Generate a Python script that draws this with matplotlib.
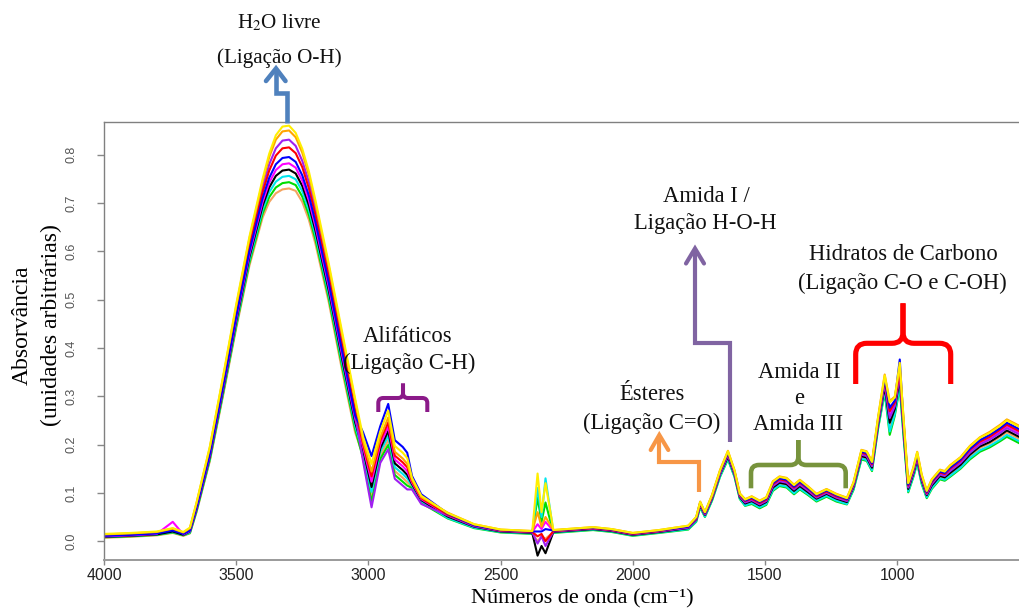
import matplotlib
matplotlib.use('Agg')
import matplotlib.pyplot as plt
from matplotlib.path import Path
from matplotlib.patches import PathPatch
from matplotlib.lines import Line2D

plt.rcParams['font.family'] = 'Liberation Sans'
plt.rcParams['mathtext.fontset'] = 'stix'

W, H = 1019, 609
SERIF = 'Liberation Serif'

# wavenumbers (cm-1), shared by all spectra
wavenumber = [4000, 3900, 3800, 3740, 3700, 3675, 3650, 3600, 3550, 3500, 3450, 3400, 3375, 3350, 3325, 3300,
              3275, 3250, 3225, 3200, 3150, 3100, 3050, 3020, 2988, 2955, 2925, 2900, 2870, 2853, 2835, 2800,
              2700, 2600, 2500, 2380, 2360, 2345, 2330, 2300, 2200, 2150, 2080, 2000, 1900, 1790, 1760, 1745,
              1727, 1700, 1670, 1640, 1615, 1595, 1575, 1550, 1520, 1495, 1470, 1445, 1418, 1390, 1368, 1336,
              1305, 1267, 1230, 1190, 1165, 1135, 1115, 1095, 1072, 1047, 1028, 1009, 990, 977, 958, 939,
              924, 907, 888, 869, 838, 820, 800, 760, 725, 687, 650, 610, 585, 560, 539]

spec_yellow = [0.015, 0.017, 0.020, 0.027, 0.019, 0.028, 0.080, 0.195, 0.340, 0.490, 0.630, 0.750, 0.802, 0.840, 0.858, 0.860,
               0.845, 0.812, 0.765, 0.705, 0.575, 0.435, 0.295, 0.216, 0.160, 0.227, 0.270, 0.197, 0.183, 0.172, 0.131, 0.094,
               0.058, 0.035, 0.024, 0.021, 0.140, 0.060, 0.120, 0.023, 0.027, 0.029, 0.025, 0.017, 0.023, 0.032, 0.050, 0.081,
               0.060, 0.095, 0.146, 0.186, 0.146, 0.098, 0.086, 0.092, 0.083, 0.090, 0.123, 0.133, 0.130, 0.116, 0.126, 0.112,
               0.097, 0.107, 0.097, 0.089, 0.121, 0.188, 0.185, 0.164, 0.256, 0.343, 0.287, 0.297, 0.369, 0.263, 0.120, 0.151,
               0.184, 0.137, 0.104, 0.127, 0.147, 0.144, 0.156, 0.173, 0.196, 0.214, 0.224, 0.239, 0.250, 0.243, 0.237]
spec_orange = [0.014, 0.016, 0.019, 0.026, 0.018, 0.027, 0.079, 0.193, 0.337, 0.486, 0.626, 0.744, 0.795, 0.831, 0.848, 0.850,
               0.836, 0.804, 0.758, 0.698, 0.569, 0.429, 0.290, 0.207, 0.144, 0.215, 0.256, 0.185, 0.171, 0.160, 0.127, 0.091,
               0.059, 0.035, 0.024, 0.021, 0.060, 0.030, 0.050, 0.023, 0.027, 0.029, 0.025, 0.017, 0.023, 0.032, 0.050, 0.082,
               0.060, 0.096, 0.147, 0.187, 0.147, 0.099, 0.087, 0.093, 0.084, 0.091, 0.124, 0.134, 0.131, 0.117, 0.127, 0.113,
               0.098, 0.108, 0.098, 0.090, 0.122, 0.189, 0.186, 0.165, 0.257, 0.345, 0.290, 0.299, 0.360, 0.265, 0.121, 0.152,
               0.185, 0.138, 0.105, 0.128, 0.148, 0.145, 0.157, 0.174, 0.197, 0.215, 0.226, 0.241, 0.252, 0.245, 0.239]
spec_red = [0.012, 0.014, 0.017, 0.024, 0.016, 0.024, 0.073, 0.185, 0.326, 0.473, 0.609, 0.722, 0.767, 0.798, 0.813, 0.815,
            0.803, 0.774, 0.730, 0.674, 0.547, 0.407, 0.271, 0.201, 0.134, 0.208, 0.246, 0.177, 0.163, 0.153, 0.124, 0.089,
            0.055, 0.033, 0.022, 0.019, 0.010, 0.015, 0.000, 0.021, 0.025, 0.027, 0.023, 0.015, 0.021, 0.030, 0.047, 0.078,
            0.057, 0.092, 0.143, 0.182, 0.143, 0.095, 0.083, 0.088, 0.079, 0.086, 0.118, 0.128, 0.125, 0.111, 0.121, 0.108,
            0.093, 0.103, 0.093, 0.086, 0.117, 0.183, 0.180, 0.159, 0.250, 0.334, 0.269, 0.287, 0.356, 0.253, 0.115, 0.146,
            0.178, 0.132, 0.100, 0.122, 0.142, 0.139, 0.150, 0.167, 0.189, 0.206, 0.216, 0.231, 0.241, 0.234, 0.228]
spec_purple = [0.013, 0.015, 0.018, 0.025, 0.017, 0.025, 0.076, 0.188, 0.331, 0.479, 0.617, 0.732, 0.780, 0.813, 0.829, 0.831,
               0.818, 0.787, 0.743, 0.685, 0.557, 0.417, 0.262, 0.165, 0.070, 0.162, 0.190, 0.129, 0.115, 0.107, 0.107, 0.077,
               0.053, 0.031, 0.021, 0.018, -0.005, 0.010, -0.010, 0.020, 0.024, 0.026, 0.022, 0.014, 0.020, 0.028, 0.045, 0.076,
               0.055, 0.090, 0.140, 0.178, 0.140, 0.093, 0.080, 0.085, 0.076, 0.083, 0.114, 0.124, 0.121, 0.107, 0.117, 0.104,
               0.090, 0.100, 0.090, 0.083, 0.114, 0.179, 0.176, 0.155, 0.245, 0.326, 0.255, 0.279, 0.345, 0.245, 0.111, 0.142,
               0.173, 0.128, 0.097, 0.118, 0.138, 0.135, 0.145, 0.162, 0.183, 0.200, 0.210, 0.224, 0.234, 0.227, 0.221]
spec_blue = [0.011, 0.013, 0.016, 0.022, 0.015, 0.022, 0.070, 0.180, 0.320, 0.465, 0.600, 0.710, 0.752, 0.780, 0.793, 0.795,
             0.785, 0.757, 0.715, 0.660, 0.535, 0.395, 0.260, 0.225, 0.176, 0.238, 0.284, 0.209, 0.195, 0.183, 0.135, 0.097,
             0.057, 0.033, 0.023, 0.020, 0.020, 0.020, 0.025, 0.022, 0.026, 0.028, 0.024, 0.016, 0.022, 0.030, 0.048, 0.080,
             0.058, 0.094, 0.144, 0.183, 0.144, 0.097, 0.084, 0.090, 0.081, 0.088, 0.120, 0.130, 0.127, 0.113, 0.123, 0.109,
             0.095, 0.105, 0.095, 0.087, 0.119, 0.185, 0.182, 0.161, 0.252, 0.337, 0.276, 0.291, 0.376, 0.257, 0.117, 0.148,
             0.180, 0.134, 0.102, 0.124, 0.144, 0.141, 0.152, 0.169, 0.191, 0.209, 0.220, 0.234, 0.245, 0.238, 0.232]
spec_magenta = [0.010, 0.012, 0.015, 0.040, 0.014, 0.021, 0.068, 0.177, 0.316, 0.460, 0.594, 0.702, 0.742, 0.768, 0.780, 0.782,
                0.773, 0.746, 0.705, 0.651, 0.527, 0.387, 0.253, 0.195, 0.123, 0.200, 0.237, 0.169, 0.155, 0.145, 0.121, 0.087,
                0.054, 0.032, 0.022, 0.019, 0.035, 0.025, 0.040, 0.021, 0.025, 0.027, 0.023, 0.015, 0.021, 0.029, 0.046, 0.077,
                0.056, 0.091, 0.141, 0.180, 0.141, 0.094, 0.081, 0.087, 0.078, 0.085, 0.116, 0.126, 0.123, 0.109, 0.119, 0.106,
                0.092, 0.102, 0.092, 0.084, 0.116, 0.181, 0.178, 0.157, 0.247, 0.330, 0.262, 0.283, 0.350, 0.249, 0.113, 0.144,
                0.175, 0.130, 0.099, 0.120, 0.140, 0.137, 0.147, 0.164, 0.186, 0.203, 0.213, 0.227, 0.238, 0.231, 0.225]
spec_black = [0.009, 0.011, 0.014, 0.020, 0.013, 0.020, 0.066, 0.174, 0.312, 0.455, 0.588, 0.694, 0.732, 0.756, 0.767, 0.769,
              0.761, 0.735, 0.695, 0.642, 0.519, 0.379, 0.246, 0.189, 0.112, 0.192, 0.228, 0.161, 0.147, 0.137, 0.118, 0.085,
              0.051, 0.030, 0.020, 0.017, -0.030, -0.010, -0.025, 0.019, 0.023, 0.025, 0.021, 0.013, 0.019, 0.027, 0.044, 0.074,
              0.054, 0.088, 0.138, 0.175, 0.138, 0.091, 0.078, 0.083, 0.074, 0.081, 0.111, 0.121, 0.118, 0.104, 0.114, 0.101,
              0.088, 0.098, 0.088, 0.081, 0.112, 0.176, 0.173, 0.152, 0.241, 0.320, 0.245, 0.273, 0.337, 0.239, 0.108, 0.139,
              0.169, 0.125, 0.095, 0.115, 0.135, 0.132, 0.141, 0.158, 0.179, 0.196, 0.205, 0.219, 0.229, 0.222, 0.216]
spec_cyan = [0.009, 0.011, 0.014, 0.019, 0.013, 0.018, 0.064, 0.171, 0.308, 0.450, 0.582, 0.686, 0.722, 0.744, 0.754, 0.756,
             0.749, 0.724, 0.685, 0.633, 0.511, 0.371, 0.239, 0.183, 0.102, 0.185, 0.218, 0.153, 0.139, 0.130, 0.115, 0.083,
             0.048, 0.028, 0.019, 0.016, 0.110, 0.050, 0.130, 0.018, 0.022, 0.024, 0.020, 0.012, 0.018, 0.025, 0.041, 0.071,
             0.051, 0.085, 0.134, 0.171, 0.134, 0.088, 0.074, 0.079, 0.070, 0.077, 0.106, 0.116, 0.113, 0.099, 0.109, 0.097,
             0.084, 0.094, 0.084, 0.077, 0.108, 0.171, 0.168, 0.147, 0.235, 0.311, 0.227, 0.263, 0.323, 0.229, 0.103, 0.134,
             0.163, 0.120, 0.091, 0.110, 0.130, 0.127, 0.135, 0.152, 0.172, 0.188, 0.197, 0.210, 0.220, 0.213, 0.207]
spec_green = [0.008, 0.010, 0.013, 0.018, 0.012, 0.017, 0.062, 0.168, 0.304, 0.445, 0.576, 0.678, 0.712, 0.732, 0.741, 0.743,
              0.737, 0.713, 0.675, 0.624, 0.503, 0.363, 0.232, 0.171, 0.081, 0.170, 0.199, 0.137, 0.123, 0.115, 0.110, 0.079,
              0.047, 0.027, 0.018, 0.015, 0.090, 0.040, 0.080, 0.017, 0.021, 0.023, 0.019, 0.011, 0.017, 0.024, 0.040, 0.070,
              0.050, 0.084, 0.133, 0.169, 0.133, 0.087, 0.073, 0.077, 0.068, 0.075, 0.104, 0.114, 0.111, 0.097, 0.107, 0.095,
              0.082, 0.092, 0.082, 0.076, 0.106, 0.169, 0.166, 0.145, 0.233, 0.307, 0.220, 0.259, 0.318, 0.225, 0.101, 0.132,
              0.161, 0.118, 0.089, 0.108, 0.128, 0.125, 0.133, 0.150, 0.169, 0.185, 0.194, 0.207, 0.216, 0.209, 0.203]
spec_sand = [0.007, 0.009, 0.012, 0.017, 0.011, 0.016, 0.060, 0.165, 0.300, 0.440, 0.570, 0.670, 0.702, 0.720, 0.728, 0.730,
             0.725, 0.702, 0.665, 0.615, 0.495, 0.355, 0.225, 0.177, 0.091, 0.177, 0.209, 0.145, 0.131, 0.122, 0.113, 0.081,
             0.050, 0.029, 0.020, 0.017, 0.000, 0.010, 0.005, 0.019, 0.023, 0.025, 0.021, 0.013, 0.019, 0.026, 0.043, 0.073,
             0.053, 0.087, 0.137, 0.174, 0.137, 0.090, 0.077, 0.081, 0.072, 0.079, 0.109, 0.119, 0.116, 0.102, 0.112, 0.100,
             0.086, 0.096, 0.086, 0.080, 0.110, 0.174, 0.171, 0.150, 0.239, 0.317, 0.238, 0.269, 0.332, 0.235, 0.106, 0.137,
             0.167, 0.123, 0.093, 0.113, 0.133, 0.130, 0.139, 0.156, 0.176, 0.193, 0.202, 0.216, 0.225, 0.218, 0.212]

spectra = [spec_sand, spec_green, spec_cyan, spec_black, spec_magenta, spec_purple, spec_red, spec_blue, spec_orange, spec_yellow]
spectrum_colors = ['#F4A460', '#00DD00', '#00E5EE', '#000000', '#FF00FF', '#A020F0', '#FF0000', '#0000FF', '#FFA500', '#FFEE00']

xtick_values = [4000, 3500, 3000, 2500, 2000, 1500, 1000]
ytick_values = [0.0, 0.1, 0.2, 0.3, 0.4, 0.5, 0.6, 0.7, 0.8]


def px(x, y):
    # pixel position in the picture (y from top) -> figure fraction
    return x / W, 1 - y / H


def polyline(fig, pts, color, lw, cap='butt'):
    xy = [px(x, y) for x, y in pts]
    fig.add_artist(Line2D([p[0] for p in xy], [p[1] for p in xy], transform=fig.transFigure,
                          color=color, lw=lw, solid_joinstyle='miter', solid_capstyle=cap))


def arrow(fig, pts, head, color, lw):
    polyline(fig, pts, color, lw)
    polyline(fig, head, color, lw, cap='round')


def brace(fig, x0, x1, xc, y_end, y_bar, y_nub, r, color, lw):
    for xe, s in ((x0, -1), (x1, 1)):
        verts = [(xc, y_nub), (xc, y_bar - r), (xc, y_bar), (xc + s * r, y_bar),
                 (xe - s * r, y_bar), (xe, y_bar), (xe, y_bar + r), (xe, y_end)]
        codes = [Path.MOVETO, Path.LINETO, Path.CURVE3, Path.CURVE3,
                 Path.LINETO, Path.CURVE3, Path.CURVE3, Path.LINETO]
        path = Path([px(*v) for v in verts], codes)
        fig.add_artist(PathPatch(path, transform=fig.transFigure, fill=False, edgecolor=color,
                                 lw=lw, capstyle='butt', joinstyle='round'))


def label(fig, x, y, s, size=16.3, **kw):
    fig.text(*px(x, y), s, ha='center', va='center', fontsize=size, family=SERIF, color='#111111', **kw)


fig = plt.figure(figsize=(W / 100, H / 100), dpi=100)
ax = fig.add_axes([104 / W, 1 - 560 / H, (W - 104) / W, (560 - 122) / H])

for spec, col in zip(spectra, spectrum_colors):
    ax.plot(wavenumber, spec, color=col, lw=1.5)

ax.set_xlim(4000, 539)
ax.set_ylim(-0.039, 0.8675)
ax.set_xticks(xtick_values)
ax.set_xticklabels([str(v) for v in xtick_values])
ax.set_yticks(ytick_values)
ax.set_yticklabels(['%.1f' % v for v in ytick_values])
ax.tick_params(axis='x', length=3.6, width=1, color='#888888', labelsize=11.5, labelcolor='#222222', pad=2)
ax.tick_params(axis='y', length=5.4, width=1, color='#888888', labelsize=9, labelcolor='#555555', pad=14)
for t in ax.get_yticklabels():
    t.set_rotation(90)
    t.set_va('center')

ax.spines['right'].set_visible(False)
for side in ('left', 'top'):
    ax.spines[side].set_color('#808080')
    ax.spines[side].set_linewidth(1.0)
ax.spines['bottom'].set_color('#9a9a9a')
ax.spines['bottom'].set_linewidth(1.4)

# axis titles
fig.text(*px(22, 325), 'Absorvância', rotation=90, ha='center', va='center', fontsize=17, family=SERIF)
fig.text(*px(51, 325), '(unidades arbitrárias)', rotation=90, ha='center', va='center', fontsize=17, family=SERIF)
fig.text(*px(582, 608.5), 'Números de onda (cm\u207b\u00b9)', ha='center', va='bottom', fontsize=16,
         family=[SERIF, 'DejaVu Serif'])

# band annotations
label(fig, 279, 23, 'H$_2$O livre', size=15.2)
label(fig, 279, 58, '(Ligação O-H)', size=15.2)
arrow(fig, [(287, 123), (287, 93), (276, 93), (276, 70)],
      [(266, 81), (276, 68.5), (285.5, 81)], '#4F81BD', 3.3)

label(fig, 408, 336, 'Alifáticos')
label(fig, 409, 363, '(Ligação C-H)')
brace(fig, 378.3, 427.3, 403, 412, 398, 383.5, 5, '#8B1A89', 2.9)

label(fig, 652, 395, 'Ésteres')
label(fig, 651.5, 423, '(Ligação C=O)')
arrow(fig, [(699.3, 492), (699.3, 461.7), (659.3, 461.7), (659.3, 436)],
      [(650.7, 450), (659.3, 435), (668.3, 450)], '#F79646', 3.0)

label(fig, 706, 197, 'Amida I /')
label(fig, 705.5, 224, 'Ligação H-O-H')
arrow(fig, [(730, 442), (730, 343), (695, 343), (695, 250)],
      [(686, 263.5), (695, 248.5), (704, 263.5)], '#8064A2', 3.0)

label(fig, 799, 372, 'Amida II')
label(fig, 799, 399, 'e')
label(fig, 798.5, 425, 'Amida III')
brace(fig, 751, 845.7, 798.3, 488.3, 465, 440, 8, '#77933C', 3.3)

label(fig, 903.5, 255, 'Hidratos de Carbono')
label(fig, 902.5, 283, '(Ligação C-O e C-OH)')
brace(fig, 855.7, 950.7, 903, 384, 343.3, 303.3, 11, '#FF0000', 3.7)

fig.savefig('out.png', dpi=100)
